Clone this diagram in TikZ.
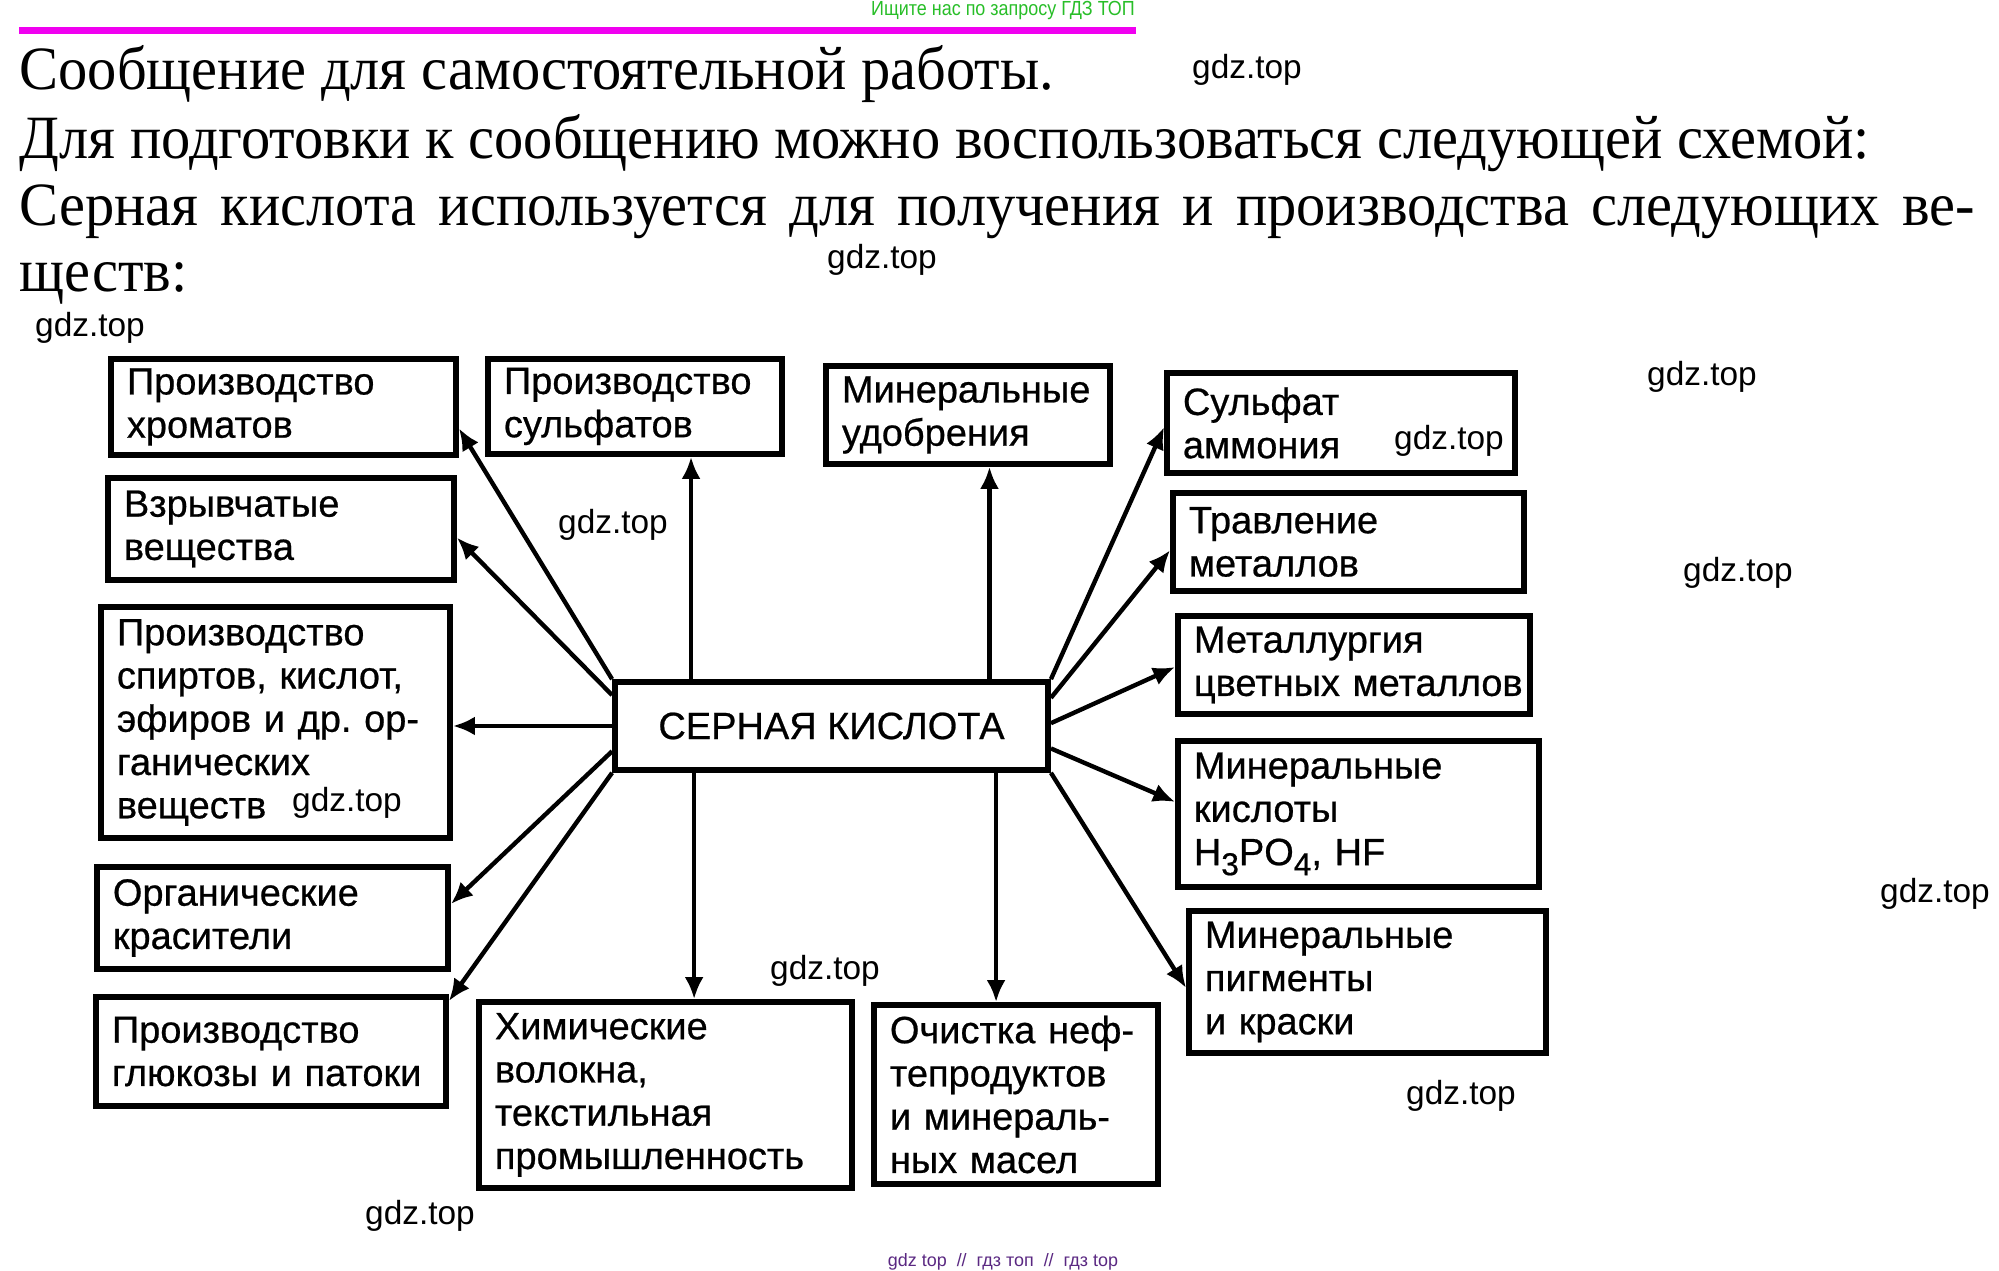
\documentclass[tikz,border=0pt]{standalone}
\usepackage{fontspec}
\setmainfont{Liberation Serif}
\setsansfont{Liberation Sans}
\newfontfamily\titlefont[FakeStretch=0.95]{Liberation Serif}
\newfontfamily\schemefont[FakeBold=0.6]{Liberation Sans}
\usetikzlibrary{arrows.meta}
\usetikzlibrary{calc}

\newcommand{\boxfont}{\schemefont\fontsize{10.8}{12.3}\selectfont\hyphenpenalty=10000 }
\newcommand{\sub}[1]{\raisebox{-0.5ex}{\fontsize{9}{9}\selectfont #1}}
\definecolor{wmgreen}{RGB}{40,190,40}
\definecolor{wmpurple}{RGB}{90,40,130}
\definecolor{headline}{RGB}{240,0,240}

\tikzset{
  box/.style={
    draw, line width=1.6pt, align=left, inner xsep=0.16cm, inner ysep=0pt,
    font=\boxfont,
  },
  arr/.style={
    line width=1.25pt, -{Latex[length=0.22cm, width=0.19cm]},
  },
  title/.style={anchor=base west, inner sep=0pt, font=\titlefont\fontsize{17.5}{20}\selectfont},
  wm/.style={inner sep=0pt, font=\sffamily\fontsize{9.5}{10}\selectfont},
}

\begin{document}
\begin{tikzpicture}[x=0.01cm, y=-0.01cm]

  \fill[white] (0,0) rectangle (1999,1271);
  \useasboundingbox (0,0) rectangle (1999,1271);

  % Page head
  \node[inner sep=0pt, text=wmgreen, font=\sffamily\fontsize{5.8}{6}\selectfont] (search) at (1003,11)
    {\scalebox{0.88}[1]{Ищите нас по запросу ГДЗ ТОП}};
  \draw[headline, line width=0.07cm] (19,31) -- (1136,31);

  \node[title] (line1) at (19,90) {Сообщение для самостоятельной работы.};
  \node[title] (line2) at (19,159) {Для подготовки к сообщению можно воспользоваться следующей схемой:};
  \node[title] (line3) at (19,226)
    {\makebox[19.54cm][s]{Серная кислота используется для получения и производства следующих ве-}};
  \node[title] (line4) at (19,292) {ществ:};

  % Define nodes
  \node[box, align=center, inner xsep=0pt, minimum width=4.33cm, minimum height=0.88cm] (acid) at (831.5,726) {СЕРНАЯ КИСЛОТА};

  \node[box, text width=3.13cm, minimum height=0.96cm] (chrom) at (283.5,407) {Производство\\хроматов};
  \node[box, text width=3.14cm, minimum height=1.02cm] (explos) at (281,529) {Взрывчатые\\вещества};
  \node[box, text width=3.17cm, minimum height=2.31cm] (organic) at (275.5,722.5)
    {Производство\\спиртов,~кислот,\\эфиров~и~др.~ор-\\ганических\\веществ};
  \node[box, text width=3.19cm, minimum height=1.02cm] (dyes) at (272.5,918) {Органические\\красители};
  \node[box, text width=3.18cm, minimum height=1.09cm] (glucose) at (271,1051.5) {Производство\\глюкозы~и~патоки};

  \node[box, text width=2.62cm, minimum height=0.95cm] (sulfates) at (635,406.5) {Производство\\сульфатов};
  \node[box, text width=2.52cm, minimum height=0.98cm] (fertil) at (968,415) {Минеральные\\удобрения};

  \node[box, text width=3.16cm, minimum height=1.00cm] (ammon) at (1341,423) {Сульфат\\аммония};
  \node[box, text width=3.19cm, minimum height=0.98cm] (etching) at (1348.5,542) {Травление\\металлов};
  \node[box, text width=3.20cm, minimum height=0.98cm] (metall) at (1354,665) {Металлургия\\цветных~металлов};
  \node[box, text width=3.29cm, minimum height=1.46cm] (acids) at (1358.5,814)
    {Минеральные\\кислоты\\H\sub{3}PO\sub{4},~HF};
  \node[box, text width=3.25cm, minimum height=1.42cm] (pigments) at (1367.5,982)
    {Минеральные\\пигменты\\и~краски};

  \node[box, text width=3.41cm, minimum height=1.86cm] (fibres) at (665.5,1095)
    {Химические\\волокна,\\текстильная\\промышленность};
  \node[box, text width=2.52cm, minimum height=1.79cm] (oil) at (1016,1094.5)
    {Очистка~неф-\\тепродуктов\\и~минераль-\\ных~масел};

  % Connect nodes
  \draw[arr] (acid.north west) -- ($(chrom.north east)!0.71!(chrom.south east)$);
  \draw[arr] ($(acid.north west)!0.17!(acid.south west)$) -- ($(explos.north east)!0.58!(explos.south east)$);
  \draw[arr] (acid.west) -- (acid.west -| organic.east);
  \draw[arr] ($(acid.north west)!0.77!(acid.south west)$) -- ($(dyes.north east)!0.37!(dyes.south east)$);
  \draw[arr] (acid.south west) -- ($(glucose.north east)!0.06!(glucose.south east)$);

  \draw[arr] ($(acid.north west)!0.18!(acid.north east)$) coordinate (up1) -- (up1 |- sulfates.south);
  \draw[arr] ($(acid.north west)!0.86!(acid.north east)$) coordinate (up2) -- (up2 |- fertil.south);
  \draw[arr] ($(acid.south west)!0.187!(acid.south east)$) coordinate (dn1) -- (dn1 |- fibres.north);
  \draw[arr] ($(acid.south west)!0.875!(acid.south east)$) coordinate (dn2) -- (dn2 |- oil.north);

  \draw[arr] (acid.north east) -- ($(ammon.north west)!0.54!(ammon.south west)$);
  \draw[arr] ($(acid.north east)!0.2!(acid.south east)$) -- ($(etching.north west)!0.58!(etching.south west)$);
  \draw[arr] ($(acid.north east)!0.47!(acid.south east)$) -- ($(metall.north west)!0.52!(metall.south west)$);
  \draw[arr] ($(acid.north east)!0.74!(acid.south east)$) -- ($(acids.north west)!0.42!(acids.south west)$);
  \draw[arr] (acid.south east) -- ($(pigments.north west)!0.54!(pigments.south west)$);

  % Watermarks
  \node[wm] (wm1) at (1247,70) {gdz.top};
  \node[wm] (wm2) at (882,260) {gdz.top};
  \node[wm] (wm3) at (90,328) {gdz.top};
  \node[wm] (wm4) at (1702,377) {gdz.top};
  \node[wm] (wm5) at (613,525) {gdz.top};
  \node[wm] (wm6) at (1449,441) {gdz.top};
  \node[wm] (wm7) at (1738,573) {gdz.top};
  \node[wm] (wm8) at (347,803) {gdz.top};
  \node[wm] (wm9) at (1935,894) {gdz.top};
  \node[wm] (wm10) at (825,971) {gdz.top};
  \node[wm] (wm11) at (1461,1096) {gdz.top};
  \node[wm] (wm12) at (420,1216) {gdz.top};
  \node[inner sep=0pt, text=wmpurple, font=\sffamily\fontsize{5.1}{6}\selectfont] (foot) at (1003,1262)
    {gdz top\ \ //\ \ гдз топ\ \ //\ \ гдз top};

\end{tikzpicture}
\end{document}
